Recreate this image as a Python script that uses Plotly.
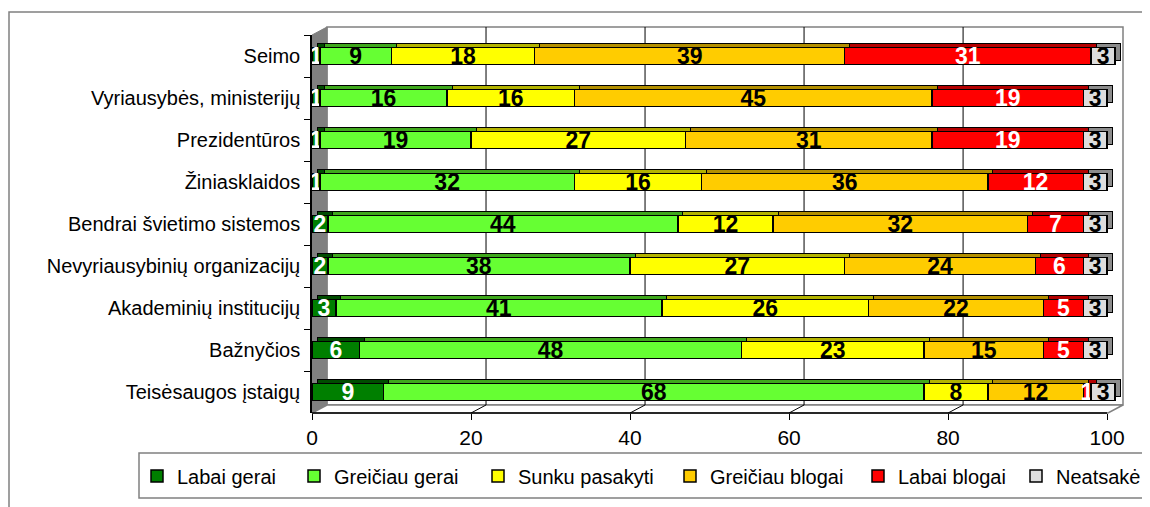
import plotly.graph_objects as go

institutions = ["Seimo", "Vyriausybės, ministerijų", "Prezidentūros", "Žiniasklaidos",
                "Bendrai švietimo sistemos", "Nevyriausybinių organizacijų",
                "Akademinių institucijų", "Bažnyčios", "Teisėsaugos įstaigų"]

labai_gerai = [1, 1, 1, 1, 2, 2, 3, 6, 9]
greiciau_gerai = [9, 16, 19, 32, 44, 38, 41, 48, 68]
sunku_pasakyti = [18, 16, 27, 16, 12, 27, 26, 23, 8]
greiciau_blogai = [39, 45, 31, 36, 32, 24, 22, 15, 12]
labai_blogai = [31, 19, 19, 12, 7, 6, 5, 5, 1]
neatsake = [3, 3, 3, 3, 3, 3, 3, 3, 3]

series_names = ["Labai gerai", "Greičiau gerai", "Sunku pasakyti",
                "Greičiau blogai", "Labai blogai", "Neatsakė"]
x_ticks = [0, 20, 40, 60, 80, 100]

series = [labai_gerai, greiciau_gerai, sunku_pasakyti, greiciau_blogai, labai_blogai, neatsake]
front_colors = ["#007F00", "#66FF33", "#FFFF00", "#FFCC00", "#FF0000", "#DDDDDD"]
side_colors = ["#004C00", "#3FA81C", "#B3B300", "#B38F00", "#B30000", "#8C8C8C"]
text_colors = ["white", "black", "black", "black", "white", "black"]
legend_px = [157, 314, 498, 690, 878, 1036]   # legend symbol centres, pixels

FONT = "Liberation Sans, Arial, sans-serif"
OFF = 8                               # page body margin
WIDTH, HEIGHT = 1150 - OFF, 507 - OFF
L, R, T, B = 312, 1123, 35, 413      # front plot area in screen pixels
W, H = R - L, B - T
XMAX = 102
DX, DY = 15, 8                        # depth of the back wall
BX, BY = 5, 4                         # depth of the bars
n = len(institutions)


def fx(p):
    return (p - L) / W


def fy(p):
    return (B - p) / H


def front_px(v):
    return L + v * W / XMAX


fig = go.Figure()

# darker copies behind the bars give the extruded 3D look
for vals, name, col in zip(series, series_names, side_colors):
    fig.add_trace(go.Bar(
        y=institutions, x=vals, orientation="h", name=name, width=0.4,
        marker=dict(color=col, line=dict(color="black", width=1)),
        showlegend=False, hoverinfo="skip", xaxis="x", yaxis="y"))

legend_ids = ["legend"] + [f"legend{i}" for i in range(2, len(series) + 1)]
for vals, name, col, tcol, lg in zip(series, series_names, front_colors, text_colors, legend_ids):
    fig.add_trace(go.Bar(
        y=institutions, x=vals, orientation="h", name=name, width=0.4,
        marker=dict(color=col, line=dict(color="black", width=1.5)),
        text=vals, textposition="inside", insidetextanchor="middle", textangle=0,
        constraintext="none",
        textfont=dict(family=FONT, size=23, color=tcol, weight="bold"),
        legend=lg, xaxis="x2", yaxis="y2"))

shift_x = BX * XMAX / W
shift_y = BY * n / H

shapes = []
# left wall
shapes.append(dict(type="path", xref="paper", yref="paper", layer="below",
                   path=f"M {fx(L)} {fy(T)} L {fx(L + DX)} {fy(T - DY)} L {fx(L + DX)} {fy(B - DY)} L {fx(L)} {fy(B)} Z",
                   fillcolor="#808080", line=dict(color="#808080", width=1)))
# back wall
shapes.append(dict(type="rect", xref="paper", yref="paper", layer="below",
                   x0=fx(L + DX), x1=fx(R), y0=fy(B - DY), y1=fy(T - DY),
                   line=dict(color="#808080", width=1.5)))
# floor
shapes.append(dict(type="path", xref="paper", yref="paper", layer="below",
                   path=f"M {fx(L)} {fy(B)} L {fx(L + DX)} {fy(B - DY)} L {fx(R)} {fy(B - DY)} L {fx(R - DX)} {fy(B)} Z",
                   fillcolor="white", line=dict(color="#808080", width=1.5)))
for v in x_ticks[1:-1]:
    xp = front_px(v)
    shapes.append(dict(type="line", xref="paper", yref="paper", layer="below",
                       x0=fx(xp + DX), x1=fx(xp + DX), y0=fy(B - DY), y1=fy(T - DY),
                       line=dict(color="black", width=1)))
    shapes.append(dict(type="line", xref="paper", yref="paper", layer="below",
                       x0=fx(xp), x1=fx(xp + DX), y0=fy(B), y1=fy(B - DY),
                       line=dict(color="black", width=1)))
# front edge of the floor
shapes.append(dict(type="line", xref="paper", yref="paper",
                   x0=fx(L), x1=fx(front_px(100)), y0=fy(B), y1=fy(B),
                   line=dict(color="black", width=1.5)))
# legend box and outer frame
shapes.append(dict(type="rect", xref="paper", yref="paper",
                   x0=fx(139), x1=fx(1165), y0=fy(498), y1=fy(453),
                   line=dict(color="#808080", width=1.5)))
shapes.append(dict(type="rect", xref="paper", yref="paper",
                   x0=fx(9), x1=fx(1170), y0=fy(530), y1=fy(12),
                   line=dict(color="#808080", width=1.5)))

legends = {}
for lg, p in zip(legend_ids, legend_px):
    legends[lg] = dict(orientation="h", x=fx(p - 20), xanchor="left", y=fy(476),
                       yanchor="middle", font=dict(size=20), bgcolor="rgba(0,0,0,0)",
                       borderwidth=0)

fig.update_layout(
    width=WIDTH, height=HEIGHT,
    margin=dict(l=L - OFF, r=OFF + WIDTH - R, t=T - OFF, b=OFF + HEIGHT - B, autoexpand=False),
    barmode="stack",
    paper_bgcolor="white", plot_bgcolor="rgba(0,0,0,0)",
    font=dict(family=FONT, size=18, color="black"),
    xaxis=dict(range=[-shift_x, XMAX - shift_x], visible=False, automargin=False),
    yaxis=dict(categoryorder="array", categoryarray=institutions,
               range=[n - 0.5 + shift_y, -0.5 + shift_y], visible=False, automargin=False),
    xaxis2=dict(overlaying="x", anchor="y2", side="bottom", range=[0, XMAX],
                tickvals=x_ticks, ticks="outside", ticklen=6, tickcolor="black",
                showgrid=False, zeroline=False, showline=False, automargin=False,
                tickfont=dict(size=21)),
    yaxis2=dict(overlaying="y", anchor="x2", side="left",
                categoryorder="array", categoryarray=institutions,
                range=[n - 0.5, -0.5], ticks="outside", tickson="boundaries",
                ticklen=6, tickcolor="black", showline=True, linecolor="black",
                linewidth=1.5, showgrid=False, ticklabelstandoff=6, automargin=False,
                tickfont=dict(size=20)),
    shapes=shapes,
    showlegend=True,
    **legends,
)

fig.write_html("out.html")
